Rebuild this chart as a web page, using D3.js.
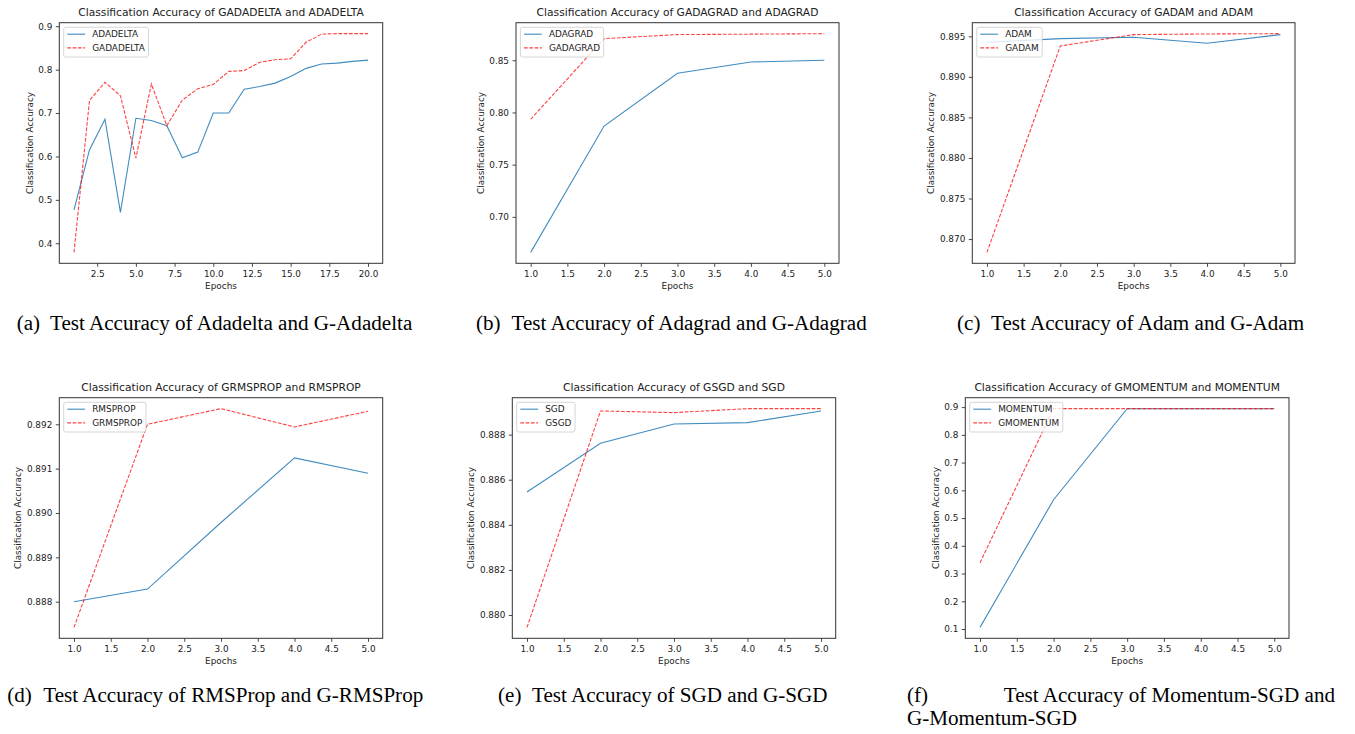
<!DOCTYPE html>
<html><head><meta charset="utf-8">
<script src="https://cdn.jsdelivr.net/npm/d3@7"></script>
<style>body{margin:0;background:#fff} svg{display:block} .ax text{font-family:"DejaVu Sans",sans-serif}</style>
</head><body><svg id="c" width="1355" height="734"></svg>
<script>
// ---------- data ----------
const epochs20 = [1,2,3,4,5,6,7,8,9,10,11,12,13,14,15,16,17,18,19,20];
const epochs5 = [1,2,3,4,5];

const adadelta  = [0.477,0.615,0.686,0.471,0.688,0.683,0.671,0.597,0.610,0.700,0.700,0.755,0.761,0.769,0.784,0.803,0.813,0.815,0.819,0.822];
const gadadelta = [0.379,0.729,0.771,0.740,0.596,0.767,0.671,0.730,0.756,0.766,0.796,0.798,0.817,0.823,0.825,0.863,0.882,0.883,0.883,0.883];

const adagrad  = [0.666,0.787,0.8376,0.8484,0.850];
const gadagrad = [0.7935,0.8707,0.8746,0.8750,0.8755];

const adam  = [0.89426,0.89471,0.89488,0.89414,0.89521];
const gadam = [0.86836,0.89381,0.89521,0.89529,0.89533];

const rmsprop  = [0.88800,0.888285,0.889786,0.891242,0.890897];
const grmsprop = [0.887422,0.892000,0.892353,0.891940,0.892293];

const sgd  = [0.885457,0.887616,0.888473,0.888532,0.889050];
const gsgd = [0.879453,0.889050,0.888976,0.889153,0.889153];

const momentum  = [0.106,0.566,0.894,0.894,0.894];
const gmomentum = [0.339,0.8945,0.8945,0.8945,0.8945];

const xTicks20 = [2.5,5,7.5,10,12.5,15,17.5,20];
const xTicks5  = [1,1.5,2,2.5,3,3.5,4,4.5,5];
const yTicksA = [0.4,0.5,0.6,0.7,0.8,0.9];
const yTicksB = [0.70,0.75,0.80,0.85];
const yTicksC = [0.870,0.875,0.880,0.885,0.890,0.895];
const yTicksD = [0.888,0.889,0.890,0.891,0.892];
const yTicksE = [0.880,0.882,0.884,0.886,0.888];
const yTicksF = [0.1,0.2,0.3,0.4,0.5,0.6,0.7,0.8,0.9];

const titles = [
  "Classification Accuracy of GADADELTA and ADADELTA",
  "Classification Accuracy of GADAGRAD and ADAGRAD",
  "Classification Accuracy of GADAM and ADAM",
  "Classification Accuracy of GRMSPROP and RMSPROP",
  "Classification Accuracy of GSGD and SGD",
  "Classification Accuracy of GMOMENTUM and MOMENTUM"
];
const seriesNames = [
  ["ADADELTA","GADADELTA"],["ADAGRAD","GADAGRAD"],["ADAM","GADAM"],
  ["RMSPROP","GRMSPROP"],["SGD","GSGD"],["MOMENTUM","GMOMENTUM"]
];
const captionLabels = ["(a)","(b)","(c)","(d)","(e)","(f)"];
const captionTexts = [
  "Test Accuracy of Adadelta and G-Adadelta",
  "Test Accuracy of Adagrad and G-Adagrad",
  "Test Accuracy of Adam and G-Adam",
  "Test Accuracy of RMSProp and G-RMSProp",
  "Test Accuracy of SGD and G-SGD",
  "Test Accuracy of Momentum-SGD and"
];
const captionExtra = "G-Momentum-SGD";

// ---------- layout ----------
const panels = [
  {x: epochs20, a: adadelta, b: gadadelta, xt: xTicks20, yt: yTicksA, yf: ".1f", box:[59.3,22.7,382.7,263.3]},
  {x: epochs5, a: adagrad, b: gadagrad, xt: xTicks5, yt: yTicksB, yf: ".2f", box:[516,22.7,839,263.3]},
  {x: epochs5, a: adam, b: gadam, xt: xTicks5, yt: yTicksC, yf: ".3f", box:[972.3,22.7,1295,263.3]},
  {x: epochs5, a: rmsprop, b: grmsprop, xt: xTicks5, yt: yTicksD, yf: ".3f", box:[59.3,397.7,382.7,638.3]},
  {x: epochs5, a: sgd, b: gsgd, xt: xTicks5, yt: yTicksE, yf: ".3f", box:[512.3,397.7,835.7,638.3]},
  {x: epochs5, a: momentum, b: gmomentum, xt: xTicks5, yt: yTicksF, yf: ".1f", box:[965.3,397.7,1289,638.3]}
];
const captionPos = [
  {lx:16.7, tx:50, y:330},
  {lx:476, tx:511.5, y:330},
  {lx:957, tx:991, y:330},
  {lx:7.3, tx:43.3, y:701.5},
  {lx:498, tx:532, y:701.5},
  {lx:907, tx:1335, y:701.5, end:true}
];

const svg = d3.select("#c");
svg.append("rect").attr("width",1355).attr("height",734).attr("fill","#fff");

const FS = 8.9, TFS = 10.7;
const BLUE = "#1f77b4", RED = "#ff0000";

panels.forEach((p, i) => {
  const [l,t,r,b] = p.box;
  const allY = p.a.concat(p.b);
  const ymin = d3.min(allY), ymax = d3.max(allY), yr = ymax - ymin;
  const xmin = d3.min(p.x), xmax = d3.max(p.x), xr = xmax - xmin;
  const xs = d3.scaleLinear().domain([xmin - 0.05*xr, xmax + 0.05*xr]).range([l, r]);
  const ys = d3.scaleLinear().domain([ymin - 0.05*yr, ymax + 0.05*yr]).range([b, t]);

  const g = svg.append("g").attr("class","ax");

  // lines
  const line = (arr) => d3.line().x((d,k)=>xs(p.x[k])).y(d=>ys(d))(arr);
  g.append("path").attr("d", line(p.a)).attr("fill","none")
    .attr("stroke",BLUE).attr("stroke-opacity",0.85).attr("stroke-width",1.1);
  g.append("path").attr("d", line(p.b)).attr("fill","none")
    .attr("stroke",RED).attr("stroke-opacity",0.75).attr("stroke-width",1.1)
    .attr("stroke-dasharray","3.7,1.6");

  // axes
  const xa = g.append("g").attr("transform",`translate(0,${b})`)
    .call(d3.axisBottom(xs).tickValues(p.xt).tickFormat(d3.format(".1f")).tickSize(3.5).tickPadding(3.5).tickSizeOuter(0));
  const ya = g.append("g").attr("transform",`translate(${l},0)`)
    .call(d3.axisLeft(ys).tickValues(p.yt).tickFormat(d3.format(p.yf)).tickSize(3.5).tickPadding(3.5).tickSizeOuter(0));
  [xa, ya].forEach(a => {
    a.select(".domain").remove();
    a.selectAll("line").attr("stroke","#333").attr("stroke-width",0.9);
    a.selectAll("text").attr("font-size",FS).attr("fill","#222")
      .attr("font-family","DejaVu Sans");
  });

  // spines
  g.append("rect").attr("x",l).attr("y",t).attr("width",r-l).attr("height",b-t)
    .attr("fill","none").attr("stroke","#333").attr("stroke-width",1);

  // title
  g.append("text").attr("x",(l+r)/2).attr("y",t-6.6).attr("text-anchor","middle")
    .attr("font-size",TFS).attr("fill","#222").text(titles[i]);

  // axis labels
  g.append("text").attr("x",(l+r)/2).attr("y",b+25.5).attr("text-anchor","middle")
    .attr("font-size",FS).attr("fill","#222").text("Epochs");
  let maxW = 0;
  ya.selectAll("text").each(function(){ maxW = Math.max(maxW, this.getComputedTextLength()); });
  const lx = l - 7 - maxW - 5.5;
  g.append("text").attr("transform",`translate(${lx},${(t+b)/2}) rotate(-90)`)
    .attr("text-anchor","middle").attr("font-size",FS).attr("fill","#222").text("Classification Accuracy");

  // legend
  const bx = l + 4.4, by = t + 4.6;
  const lg = g.append("g");
  const bg = lg.append("rect").attr("x",bx).attr("y",by).attr("height",29.7).attr("rx",2)
    .attr("fill","#fff").attr("fill-opacity",0.8).attr("stroke","#cccccc").attr("stroke-width",0.8);
  let tw = 0;
  seriesNames[i].forEach((nm, k) => {
    const cy = by + 6.9 + k*13.7;
    lg.append("line").attr("x1",bx+3.6).attr("x2",bx+21.4).attr("y1",cy).attr("y2",cy)
      .attr("stroke", k===0?BLUE:RED).attr("stroke-opacity", k===0?0.85:0.75).attr("stroke-width",1.1)
      .attr("stroke-dasharray", k===0?null:"3.7,1.6");
    const tx = lg.append("text").attr("x",bx+28.5).attr("y",cy+3.2).attr("font-size",FS)
      .attr("fill","#222").text(nm);
    tw = Math.max(tw, tx.node().getComputedTextLength());
  });
  bg.attr("width", 28.5 + tw + 3.6);
});

// captions
const CFS = 21.1;
captionPos.forEach((c, i) => {
  svg.append("text").attr("x",c.lx).attr("y",c.y).attr("font-family","Liberation Serif")
    .attr("font-size",CFS).attr("fill","#000").text(captionLabels[i]);
  svg.append("text").attr("x",c.tx).attr("y",c.y).attr("font-family","Liberation Serif")
    .attr("font-size",CFS).attr("fill","#000").attr("text-anchor", c.end?"end":"start").text(captionTexts[i]);
});
svg.append("text").attr("x",907).attr("y",725).attr("font-family","Liberation Serif")
  .attr("font-size",CFS).attr("fill","#000").text(captionExtra);
</script>
</body></html>
